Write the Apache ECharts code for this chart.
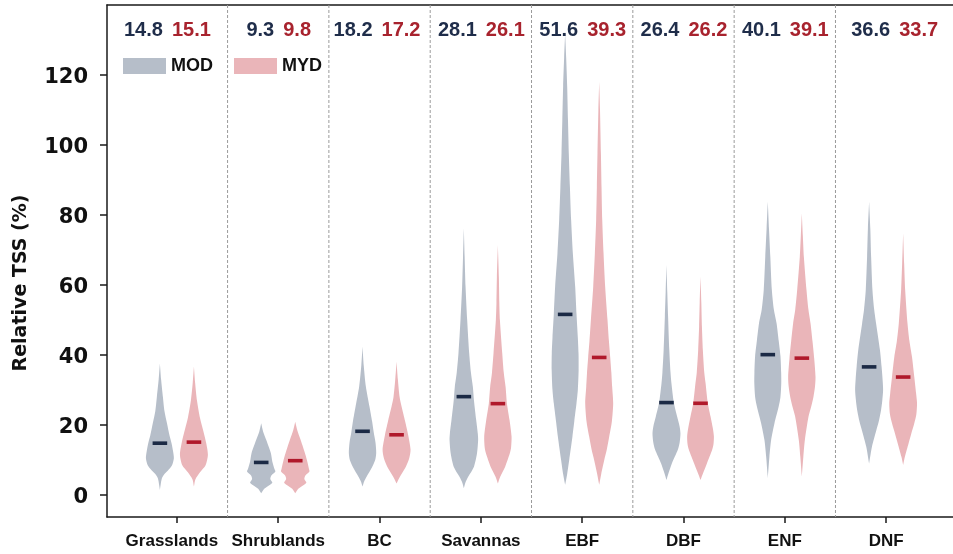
<!DOCTYPE html>
<html>
<head>
<meta charset="utf-8">
<script src="https://cdn.jsdelivr.net/npm/echarts@6/dist/echarts.min.js"></script>
<style>html,body{margin:0;padding:0;background:#fff;}#c{width:953px;height:554px;}</style>
</head>
<body>
<div id="c"></div>
<script>
// ---------------- DATA ----------------
const categories = ['Grasslands', 'Shrublands', 'BC', 'Savannas', 'EBF', 'DBF', 'ENF', 'DNF'];
const modMean = [14.8, 9.3, 18.2, 28.1, 51.6, 26.4, 40.1, 36.6];
const mydMean = [15.1, 9.8, 17.2, 26.1, 39.3, 26.2, 39.1, 33.7];
const yTickValues = [0, 20, 40, 60, 80, 100, 120];

// violin profiles: [value (%), half-width in category units], top to bottom
const modProfiles = [
  [[37.6,0],[33,0.012],[28,0.03],[24,0.045],[20.5,0.07],[17,0.095],[14.8,0.115],[12.5,0.13],[10.5,0.138],[8.5,0.12],[7,0.08],[6,0.045],[4.8,0.02],[3,0.008],[1.4,0]],
  [[20.5,0],[18,0.02],[15.7,0.05],[12,0.095],[9.5,0.11],[7.5,0.13],[6.7,0.14],[5.6,0.1],[4.6,0.09],[3.5,0.11],[2.8,0.08],[1.8,0.03],[0.5,0]],
  [[42.4,0],[37,0.012],[31,0.033],[25.2,0.069],[21,0.095],[18,0.11],[15,0.128],[12,0.135],[10,0.125],[8,0.095],[5.2,0.04],[3.8,0.015],[2.4,0]],
  [[76.2,0],[68,0.008],[59.5,0.017],[50,0.033],[40.5,0.053],[35,0.07],[30.9,0.089],[27,0.1],[21.4,0.122],[17.5,0.138],[15.7,0.141],[11.9,0.13],[8.1,0.1],[5.2,0.043],[3.5,0.015],[1.9,0]],
  [[131.9,0],[125,0.01],[116.7,0.02],[107,0.028],[97.6,0.036],[88,0.047],[78.6,0.059],[69,0.076],[59.5,0.099],[51.7,0.112],[45,0.125],[40.5,0.132],[35.7,0.133],[30,0.125],[26.2,0.112],[21,0.09],[16.7,0.072],[10,0.04],[6,0.02],[2.9,0]],
  [[65.7,0],[58,0.008],[50.9,0.016],[41.4,0.028],[35,0.04],[31.9,0.049],[26.5,0.072],[22.4,0.105],[19.5,0.13],[17.6,0.138],[15,0.13],[12.9,0.112],[9,0.053],[6.2,0.02],[4.3,0]],
  [[83.8,0],[76,0.012],[68.1,0.025],[58.6,0.04],[53,0.06],[49,0.087],[44,0.108],[39.7,0.125],[35,0.132],[31.9,0.133],[28,0.125],[25.2,0.107],[20.5,0.066],[15.7,0.033],[10.9,0.016],[4.8,0]],
  [[83.8,0],[76,0.012],[68.1,0.02],[58.6,0.033],[53,0.05],[49,0.069],[41.4,0.107],[36.7,0.123],[33,0.133],[30,0.138],[27,0.13],[24.3,0.118],[21,0.095],[18.6,0.072],[13.8,0.028],[9,0]]
];
const mydProfiles = [
  [[36.7,0],[32,0.012],[27,0.03],[22,0.06],[18.6,0.09],[15,0.12],[11.5,0.138],[8.5,0.115],[6.5,0.06],[4.5,0.015],[2.4,0]],
  [[20.9,0],[18.5,0.02],[16,0.05],[12.5,0.09],[10,0.115],[7.5,0.135],[6.7,0.14],[5.6,0.1],[4.6,0.09],[3.5,0.11],[2.8,0.08],[1.8,0.03],[0.5,0]],
  [[38.1,0],[33,0.013],[28,0.03],[25.2,0.05],[21,0.085],[17.1,0.115],[13,0.138],[10.5,0.125],[8.1,0.092],[5.2,0.033],[3.3,0]],
  [[71.4,0],[62,0.01],[55,0.014],[50,0.02],[40.5,0.043],[35,0.058],[30.9,0.076],[26.2,0.089],[21.4,0.115],[16.7,0.135],[13.5,0.13],[11.9,0.118],[8.1,0.072],[5.2,0.023],[3.3,0]],
  [[118.1,0],[110,0.008],[97.6,0.017],[88,0.023],[78.6,0.03],[69,0.043],[59.5,0.059],[50,0.082],[44,0.096],[39.3,0.109],[35,0.12],[30.9,0.128],[26.2,0.138],[21,0.125],[16.7,0.099],[13,0.075],[10,0.05],[6,0.02],[2.9,0]],
  [[62.4,0],[55,0.008],[48,0.014],[41.4,0.023],[35,0.037],[31.9,0.05],[26.2,0.072],[22.4,0.099],[19,0.122],[16.7,0.132],[14.5,0.128],[12.9,0.115],[9,0.063],[6.2,0.025],[4.3,0]],
  [[80.5,0],[74,0.01],[68.1,0.02],[58.6,0.046],[53,0.065],[49,0.086],[44,0.105],[39,0.122],[33.8,0.135],[31,0.13],[28.1,0.115],[25,0.09],[22.4,0.066],[15.7,0.03],[10.9,0.015],[5.2,0]],
  [[74.8,0],[66,0.01],[58.6,0.02],[49,0.043],[44,0.062],[39.5,0.087],[33.7,0.11],[29,0.128],[26.2,0.137],[23,0.13],[20.5,0.11],[17.5,0.08],[14.8,0.054],[10.9,0.017],[8.6,0]]
];

// ---------------- STYLE / LAYOUT ----------------
const MOD_FILL = '#b6bec9', MYD_FILL = '#eab5b9';
const MOD_DARK = '#1b2a45', MYD_DARK = '#b0192b';
const MOD_TEXT = '#1f2d4a', MYD_TEXT = '#a8232e';
const violinOffset = 0.168;   // category units
const meanHalfLen = 0.072;
const labelNudgePx = [-10, 0, -3, 0, 0, 0, 0, 8];
const AXIS_COLOR = '#1a1a1a';

function violinRender(profiles, sign, fill, dark) {
  return function (params, api) {
    const i = api.value(0), mean = api.value(1);
    const prof = profiles[i];
    const cx = i + sign * violinOffset;
    const pts = [];
    for (let k = 0; k < prof.length; k++) pts.push(api.coord([cx + prof[k][1], prof[k][0]]));
    for (let k = prof.length - 1; k >= 0; k--) pts.push(api.coord([cx - prof[k][1], prof[k][0]]));
    const a = api.coord([cx - meanHalfLen, mean]);
    const b = api.coord([cx + meanHalfLen, mean]);
    return {
      type: 'group',
      children: [
        { type: 'polygon', shape: { points: pts, smooth: 0.25 }, style: { fill: fill } },
        { type: 'rect', shape: { x: a[0], y: a[1] - 1.8, width: b[0] - a[0], height: 3.6 }, style: { fill: dark } }
      ]
    };
  };
}

const modData = categories.map((c, i) => [i, modMean[i]]);
const mydData = categories.map((c, i) => [i, mydMean[i]]);
const dividerData = categories.slice(1).map((c, i) => [i + 0.5]);
const labelData = categories.map((c, i) => [i]);
const catTicks = categories.map((c, i) => i);

const xLabelStyle = { fontFamily: 'Liberation Sans', fontWeight: 'bold', fontSize: 17, color: '#111' };

const chart = echarts.init(document.getElementById('c'), null, { renderer: 'canvas' });
chart.setOption({
  backgroundColor: '#ffffff',
  animation: false,
  grid: { left: 107, right: 0, top: 5, bottom: 37, show: false },
  legend: {
    data: ['MOD', 'MYD'], left: 118, top: 52, icon: 'rect', itemWidth: 43, itemHeight: 16, itemGap: 21,
    textStyle: { fontFamily: 'Liberation Sans', fontWeight: 'bold', fontSize: 18, color: '#111' }
  },
  xAxis: [{
    type: 'value', min: -0.69, max: 7.66, position: 'bottom',
    axisLine: { show: true, onZero: false, lineStyle: { color: AXIS_COLOR, width: 1.5 } },
    axisTick: { show: true, customValues: catTicks, length: 6, lineStyle: { color: AXIS_COLOR, width: 1.5 } },
    axisLabel: Object.assign({
      customValues: catTicks, margin: 16,
      formatter: v => {
        const k = Math.round(v);
        return k === 0 ? '{g|' + categories[k] + '}' : (categories[k] || '');
      },
      rich: { g: Object.assign({ padding: [0, 10, 0, 0] }, xLabelStyle) }
    }, xLabelStyle),
    splitLine: { show: false }
  }, {
    type: 'value', min: -0.69, max: 7.66, position: 'top',
    axisLine: { show: true, onZero: false, lineStyle: { color: AXIS_COLOR, width: 1.5 } },
    axisTick: { show: false }, axisLabel: { show: false }, splitLine: { show: false }
  }],
  yAxis: {
    type: 'value', min: -6.29, max: 140,
    axisLine: { show: true, onZero: false, lineStyle: { color: AXIS_COLOR, width: 1.5 } },
    axisTick: { show: true, customValues: yTickValues, length: 7, lineStyle: { color: AXIS_COLOR, width: 1.5 } },
    axisLabel: {
      customValues: yTickValues, margin: 19,
      formatter: v => '{n|' + v + '}',
      rich: { n: { padding: [5, 0, 0, 0], fontFamily: 'DejaVu Sans', fontWeight: 'bold', fontSize: 21, color: '#111' } },
      fontFamily: 'DejaVu Sans', fontWeight: 'bold', fontSize: 21, color: '#111'
    },
    splitLine: { show: false }
  },
  graphic: [{
    type: 'text', x: 21, y: 283, rotation: Math.PI / 2,
    style: { text: 'Relative TSS (%)', fontFamily: 'DejaVu Sans', fontWeight: 'bold', fontSize: 19, fill: '#111', align: 'center', verticalAlign: 'middle' }
  }],
  series: [
    {
      type: 'custom', name: 'divider', silent: true, data: dividerData, z: 1,
      renderItem: function (params, api) {
        const p = api.coord([api.value(0), 0]);
        const cs = params.coordSys;
        return { type: 'line', shape: { x1: p[0], y1: cs.y, x2: p[0], y2: cs.y + cs.height }, style: { stroke: '#9a9a9a', lineWidth: 1, lineDash: [3, 2] } };
      }
    },
    { type: 'custom', name: 'MOD', itemStyle: { color: MOD_FILL }, data: modData, z: 2, renderItem: violinRender(modProfiles, -1, MOD_FILL, MOD_DARK) },
    { type: 'custom', name: 'MYD', itemStyle: { color: MYD_FILL }, data: mydData, z: 2, renderItem: violinRender(mydProfiles, 1, MYD_FILL, MYD_DARK) },
    {
      type: 'custom', name: 'labels', silent: true, data: labelData, z: 3,
      renderItem: function (params, api) {
        const i = api.value(0);
        const p = api.coord([i, 0]);
        const cs = params.coordSys;
        const x = p[0] + labelNudgePx[i];
        const y = cs.y + 25;
        return {
          type: 'group', children: [
            { type: 'text', style: { x: x - 4, y: y, text: modMean[i].toFixed(1), align: 'right', verticalAlign: 'middle', fontFamily: 'Liberation Sans', fontWeight: 'bold', fontSize: 20, fill: MOD_TEXT } },
            { type: 'text', style: { x: x + 5, y: y, text: mydMean[i].toFixed(1), align: 'left', verticalAlign: 'middle', fontFamily: 'Liberation Sans', fontWeight: 'bold', fontSize: 20, fill: MYD_TEXT } }
          ]
        };
      }
    }
  ]
});
</script>
</body>
</html>
